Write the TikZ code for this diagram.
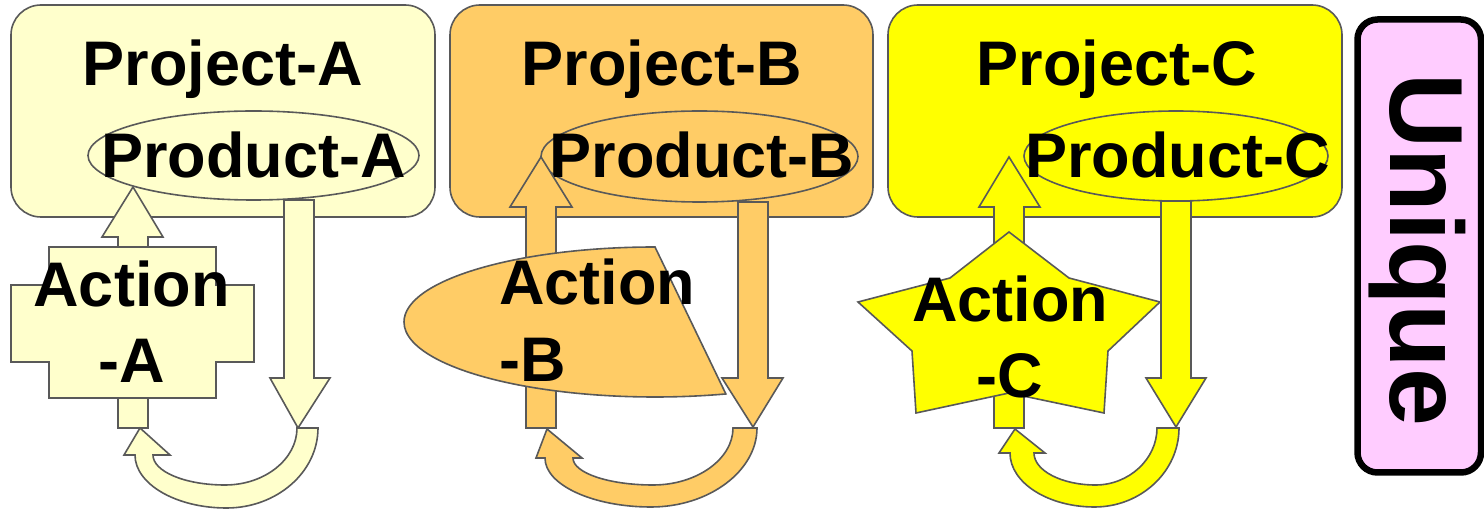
\documentclass[tikz,border=0pt]{standalone}
\usepackage{fontspec}
\setmainfont{Liberation Sans}
\usetikzlibrary{shapes.geometric}
\definecolor{edge}{RGB}{89,89,89}
\definecolor{fillA}{RGB}{255,255,204}
\definecolor{fillB}{RGB}{255,204,102}
\definecolor{fillC}{RGB}{255,255,0}
\definecolor{fillU}{RGB}{255,204,255}
\begin{document}
\begin{tikzpicture}[x=1pt,y=-1pt,
  outl/.style={draw=edge, line width=1.6pt, line join=miter},
  projbox/.style={outl, rectangle, rounded corners=30pt, inner sep=0pt, minimum height=212pt},
  prodell/.style={outl, ellipse, inner sep=0pt},
  big/.style={font=\fontsize{63}{70}\selectfont\bfseries, inner sep=0pt, anchor=base},
  bigw/.style={big, anchor=base west}
]
\useasboundingbox (0,0) rectangle (1484,510);

% ---------------- Project A ----------------
\node[projbox, fill=fillA, minimum width=424pt] (boxA) at (223,111) {};
\node[big] (projA) at (223,86) {Project-A};
\node[prodell, fill=fillA, minimum width=331pt, minimum height=89pt] (ellA) at (253.5,155.5) {};
\node[big] (prodA) at (253.5,178) {Product-A};
% down arrow from the product
\draw[outl, fill=fillA] (284,200) -- (314,200) -- (314,378) -- (330,378) -- (298,428)
  -- (270,378) -- (284,378) -- cycle;
% up arrow into the product
\draw[outl, fill=fillA] (133,187) -- (163,237) -- (148,237) -- (148,428) -- (118,428)
  -- (118,237) -- (102,237) -- cycle;
% action shape (cross)
\draw[outl, fill=fillA] (49,247) -- (216,247) -- (216,285) -- (254,285) -- (254,362)
  -- (216,362) -- (216,398) -- (49,398) -- (49,362) -- (11,362) -- (11,285) -- (49,285) -- cycle;
\node[big] (actA1) at (131.5,307) {Action};
\node[big] (actA2) at (132,383) {-A};
% return loop
\draw[outl, fill=fillA] (318,428) -- (297,428)
  .. controls (297,459) and (265,485) .. (225,485)
  .. controls (185,485) and (153,471.5) .. (153,455)
  -- (170,455) -- (140,428) -- (124,455) -- (135,455)
  .. controls (135,484) and (176,508) .. (226.5,508)
  .. controls (277,508) and (318,472) .. (318,428) -- cycle;

% ---------------- Project B ----------------
\node[projbox, fill=fillB, minimum width=423pt] (boxB) at (661.5,111) {};
\node[big] (projB) at (661.5,86) {Project-B};
\node[prodell, fill=fillB, minimum width=317pt, minimum height=91pt] (ellB) at (699.5,156.5) {};
\node[big] (prodB) at (702,178) {Product-B};
\draw[outl, fill=fillB] (738,202) -- (768,202) -- (768,378) -- (783,378) -- (753,427)
  -- (722,378) -- (738,378) -- cycle;
\draw[outl, fill=fillB] (541,157) -- (572,207) -- (556,207) -- (556,428) -- (526,428)
  -- (526,207) -- (510,207) -- cycle;
% action shape (chord of an ellipse)
\draw[outl, fill=fillB] (655,247) arc[start angle=-90, end angle=-286.4, x radius=251, y radius=75] -- cycle;
\node[bigw] (actB1) at (499,305) {Action};
\node[bigw] (actB2) at (499,382) {-B};
\draw[outl, fill=fillB] (757,428) -- (733,428)
  .. controls (733,459) and (697,485) .. (653,485)
  .. controls (609,485) and (573,473) .. (573,458)
  -- (582,458) -- (547,429) -- (536,458) -- (545,458)
  .. controls (545,485) and (593,507) .. (651,507)
  .. controls (709,507) and (757,471) .. (757,428) -- cycle;

% ---------------- Project C ----------------
\node[projbox, fill=fillC, minimum width=454pt] (boxC) at (1115,111) {};
\node[big] (projC) at (1116.5,86) {Project-C};
\node[prodell, fill=fillC, minimum width=304pt, minimum height=90pt] (ellC) at (1176,156) {};
\node[big] (prodC) at (1177.5,178) {Product-C};
\draw[outl, fill=fillC] (1161,201) -- (1191,201) -- (1191,378) -- (1206,378) -- (1176,427)
  -- (1146,378) -- (1161,378) -- cycle;
\draw[outl, fill=fillC] (1009,157) -- (1040,207) -- (1024,207) -- (1024,428) -- (994,428)
  -- (994,207) -- (979,207) -- cycle;
% action shape (star)
\draw[outl, fill=fillC] (1009,232) -- (1069,278) -- (1160,302) -- (1108,351) -- (1104,413)
  -- (1009,393) -- (916,413) -- (912,351) -- (858,302) -- (950,278) -- cycle;
\node[big] (actC1) at (1010,322) {Action};
\node[big] (actC2) at (1010,398) {-C};
\draw[outl, fill=fillC] (1179,428) -- (1157,428)
  .. controls (1157,459) and (1129,485) .. (1095.5,485)
  .. controls (1061.7,485) and (1034,470.6) .. (1034,453)
  -- (1045,453) -- (1015,429) -- (999,453) -- (1010,453)
  .. controls (1010,482.7) and (1048,507) .. (1094.5,507)
  .. controls (1141,507) and (1179,471.5) .. (1179,428) -- cycle;

% ---------------- side label ----------------
\node[draw=black, line width=6.5pt, fill=fillU, rounded corners=20pt, inner sep=0pt,
  minimum width=123.5pt, minimum height=453pt] (uniq) at (1419.25,246) {};
\node[font=\fontsize{104}{110}\selectfont\bfseries, rotate=-90, anchor=base, inner sep=0pt]
  (uniqtext) at (1390,250) {Unique};
\end{tikzpicture}
\end{document}
